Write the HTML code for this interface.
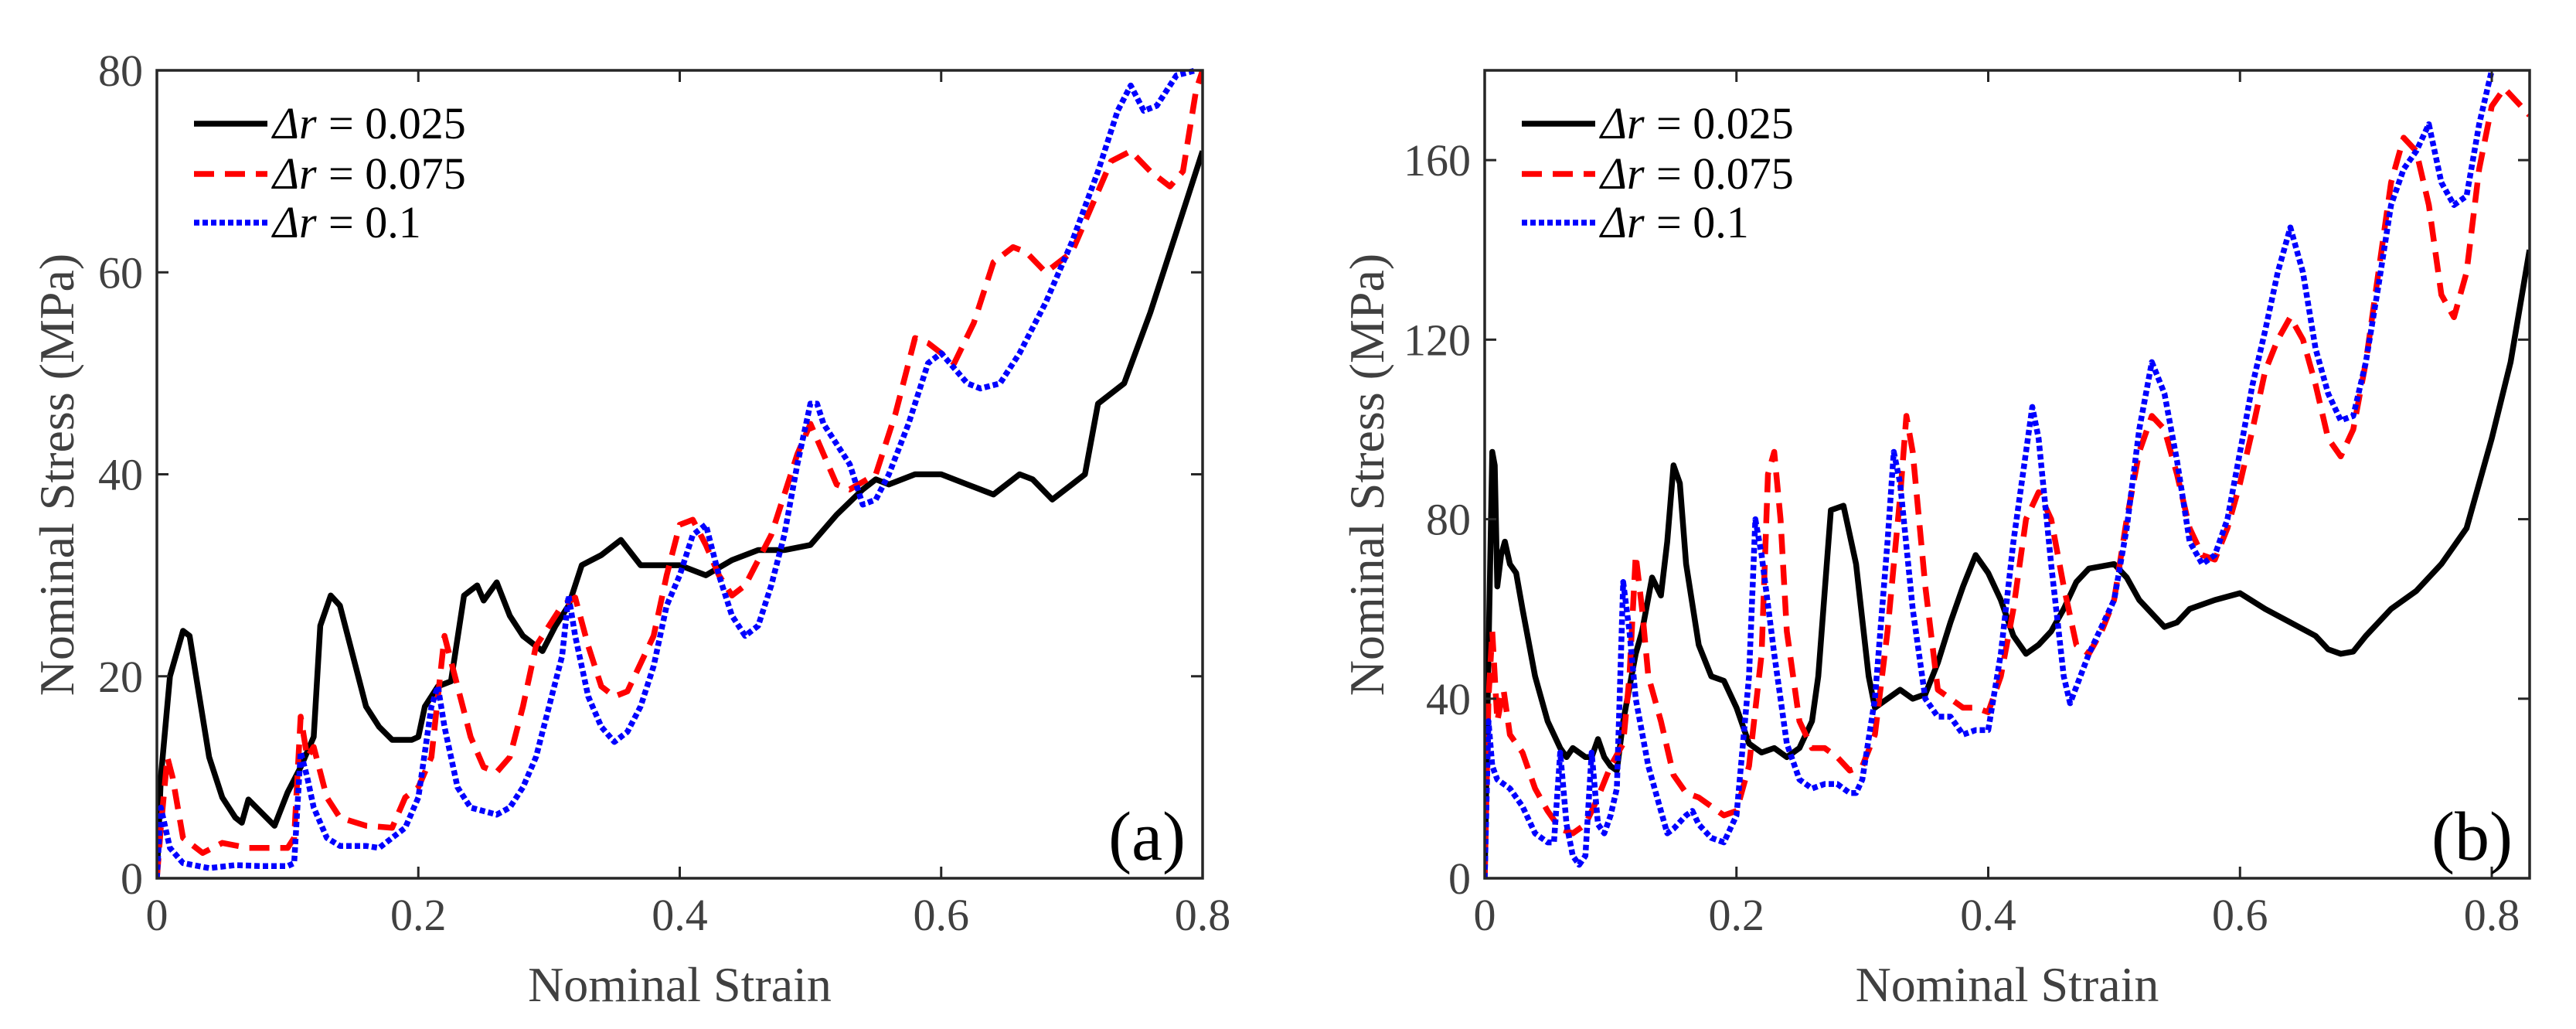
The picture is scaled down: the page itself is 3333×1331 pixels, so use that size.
<!DOCTYPE html>
<html><head><meta charset="utf-8"><style>
html,body{margin:0;padding:0;background:#fff;}
svg{display:block;}
text{font-family:"Liberation Serif",serif;}
</style></head><body>
<svg id="fig" width="3333" height="1331" viewBox="0 0 3333 1331" xmlns="http://www.w3.org/2000/svg"></svg>
<script>
const xTicksA=[0,0.2,0.4,0.6,0.8];
const yTicksA=[0,20,40,60,80];
const xTicksB=[0,0.2,0.4,0.6,0.8];
const yTicksB=[0,40,80,120,160];
const seriesValues=["0.025","0.075","0.1"];
const aBlackX=[0,0.003,0.01,0.02,0.025,0.03,0.04,0.05,0.06,0.065,0.07,0.08,0.09,0.1,0.11,0.12,0.125,0.133,0.14,0.15,0.16,0.17,0.18,0.195,0.2,0.205,0.215,0.225,0.235,0.245,0.25,0.26,0.27,0.28,0.29,0.295,0.305,0.315,0.325,0.34,0.355,0.37,0.39,0.4,0.42,0.44,0.46,0.48,0.5,0.52,0.54,0.55,0.56,0.58,0.6,0.62,0.64,0.66,0.67,0.685,0.7,0.71,0.72,0.74,0.76,0.78,0.8];
const aBlackY=[0,10,20,24.5,24,20,12,8,6,5.5,7.8,6.5,5.2,8.5,11,14,25,28,27,22,17,15,13.7,13.7,14,17,19,19.5,28,29,27.5,29.3,26,24,23,22.5,25,27,31,32,33.5,31,31,31,30,31.5,32.5,32.5,33,36,38.5,39.5,39,40,40,39,38,40,39.5,37.5,39,40,47,49,56,64,72];
const aRedX=[0,0.003,0.008,0.012,0.02,0.035,0.05,0.07,0.1,0.105,0.11,0.115,0.12,0.13,0.14,0.16,0.18,0.19,0.2,0.21,0.22,0.23,0.24,0.25,0.26,0.27,0.28,0.29,0.31,0.32,0.33,0.34,0.35,0.36,0.38,0.39,0.4,0.41,0.42,0.43,0.44,0.45,0.47,0.49,0.5,0.51,0.52,0.53,0.55,0.565,0.58,0.59,0.6,0.61,0.625,0.64,0.655,0.665,0.68,0.7,0.72,0.73,0.745,0.76,0.775,0.785,0.795,0.8];
const aRedY=[0,5,12,10,4,2.5,3.5,3,3,4,16,12,13,8,6,5.2,5,8,9,12,24,19,14,11,10.5,12,17,23,27,27.8,23,19,18,18.5,24,30,35,35.5,33,30,28,29,34,42,45,42,39,38.5,40,46,53.5,53,52,51,55,61,62.5,62,60,62,68,71,72,70,68.5,70,78,80];
const aBlueX=[0,0.003,0.01,0.02,0.04,0.06,0.08,0.1,0.105,0.11,0.115,0.12,0.13,0.14,0.16,0.17,0.19,0.2,0.21,0.215,0.22,0.23,0.24,0.26,0.27,0.28,0.29,0.3,0.31,0.315,0.32,0.33,0.34,0.35,0.36,0.37,0.38,0.39,0.4,0.41,0.42,0.43,0.44,0.45,0.46,0.47,0.48,0.49,0.5,0.505,0.51,0.53,0.54,0.55,0.56,0.575,0.59,0.6,0.62,0.63,0.645,0.66,0.68,0.7,0.72,0.735,0.745,0.755,0.765,0.78,0.795];
const aBlueY=[0,7,3,1.5,1,1.3,1.2,1.2,1.5,12.5,10,7,4,3.2,3.2,3,5,8,17,19,15,9,7,6.3,7,9,12,17,22,28,24,18,15,13.5,14.5,17,21,27,30,34,35,30,26,24,25,29,34,41,47,47,45,41,37,37.5,40,45,51,52,49,48.5,49,52,57,63,70,76,78.5,76,76.5,79.5,80];
const bBlackX=[0,0.003,0.006,0.008,0.01,0.013,0.016,0.02,0.025,0.03,0.04,0.05,0.06,0.065,0.07,0.08,0.085,0.09,0.095,0.1,0.105,0.11,0.12,0.125,0.133,0.14,0.145,0.15,0.155,0.16,0.17,0.18,0.19,0.2,0.21,0.22,0.23,0.24,0.25,0.26,0.265,0.275,0.285,0.295,0.305,0.31,0.32,0.33,0.34,0.35,0.36,0.37,0.38,0.39,0.4,0.41,0.42,0.43,0.44,0.45,0.46,0.47,0.48,0.5,0.51,0.52,0.54,0.55,0.56,0.58,0.6,0.62,0.64,0.66,0.67,0.68,0.69,0.7,0.72,0.74,0.76,0.78,0.8,0.815,0.83];
const bBlackY=[0,50,95,92,65,72,75,70,68,60,45,35,29,27,29,27,27,31,27,25,24,35,50,55,67,63,75,92,88,70,52,45,44,38,30,28,29,27,29,35,45,82,83,70,45,38,40,42,40,41,48,57,65,72,68,62,54,50,52,55,60,66,69,70,67,62,56,57,60,62,63.5,60,57,54,51,50,50.5,54,60,64,70,78,98,115,140];
const bRedX=[0,0.003,0.006,0.01,0.015,0.02,0.03,0.04,0.05,0.06,0.07,0.08,0.09,0.1,0.11,0.115,0.12,0.125,0.13,0.14,0.15,0.16,0.17,0.18,0.19,0.2,0.21,0.22,0.225,0.23,0.235,0.24,0.25,0.26,0.27,0.28,0.29,0.3,0.31,0.32,0.33,0.335,0.34,0.35,0.36,0.37,0.38,0.39,0.4,0.41,0.42,0.43,0.44,0.45,0.46,0.47,0.48,0.49,0.5,0.51,0.52,0.53,0.54,0.55,0.56,0.57,0.58,0.59,0.6,0.61,0.62,0.63,0.64,0.65,0.66,0.67,0.68,0.69,0.7,0.71,0.72,0.73,0.74,0.75,0.76,0.77,0.78,0.79,0.8,0.81,0.83];
const bRedY=[0,40,55,35,42,32,28,20,15,11,10,12,18,25,30,45,72,60,45,35,23,19,18,16,14,15,25,50,90,95,80,55,35,29,29,27,24,25,32,55,85,103,95,65,42,40,38,38,37,45,60,80,86,80,65,52,50,55,62,80,95,103,100,90,78,72,71,78,88,100,113,120,125,120,110,98,94,100,115,135,155,165,162,150,130,125,135,158,172,176,170];
const bBlueX=[0,0.003,0.006,0.01,0.02,0.03,0.04,0.05,0.055,0.06,0.065,0.07,0.075,0.08,0.085,0.09,0.095,0.1,0.105,0.11,0.115,0.12,0.13,0.14,0.145,0.15,0.16,0.165,0.17,0.18,0.19,0.2,0.21,0.215,0.22,0.23,0.24,0.25,0.26,0.27,0.28,0.29,0.295,0.3,0.31,0.32,0.325,0.33,0.34,0.35,0.36,0.37,0.38,0.39,0.4,0.41,0.42,0.43,0.435,0.44,0.45,0.46,0.465,0.48,0.49,0.5,0.51,0.52,0.53,0.54,0.55,0.56,0.57,0.58,0.59,0.6,0.61,0.62,0.63,0.64,0.65,0.66,0.67,0.68,0.69,0.7,0.71,0.72,0.73,0.74,0.75,0.76,0.77,0.78,0.79,0.8];
const bBlueY=[0,35,25,22,20,16,10,8,8,28,12,5,3,5,28,12,10,14,20,66,55,40,25,15,10,11,14,15,12,9,8,14,45,80,72,50,30,22,20,21,21,19,19,22,40,75,95,88,60,40,36,36,32,33,33,50,75,95,105,98,70,45,39,50,56,62,78,100,115,108,93,75,70,72,80,95,110,122,135,145,135,118,108,102,103,115,132,150,158,162,168,155,150,152,168,180];

const NS="http://www.w3.org/2000/svg";
const svg=document.getElementById('fig');
const FF="Liberation Serif, serif";
function mk(tag,attrs,parent){const e=document.createElementNS(NS,tag);for(const k in attrs)e.setAttribute(k,attrs[k]);(parent||svg).appendChild(e);return e;}
const styles=[{stroke:"#000",dash:""},{stroke:"#ff0000",dash:"26 14"},{stroke:"#0000ff",dash:"7 4"}];

function panel(cfg){
  const g=mk('g',{});
  
  
  const L=cfg.left,R=cfg.right,T=91,B=1136;
  const xs=v=>L+(v-0)/(cfg.xmax)*(R-L);
  const ys=v=>B-(v/cfg.ymax)*(B-T);
  const clip=mk('clipPath',{id:'clip-'+cfg.name},g);
  mk('rect',{x:L,y:T-4,width:R-L,height:B-T+4},clip);
  cfg.series.forEach((s,i)=>{
    const d=s.x.map((v,j)=>(j?'L':'M')+xs(v).toFixed(1)+' '+ys(s.y[j]).toFixed(1)).join(' ');
    const p=mk('path',{d:d,fill:'none',stroke:styles[i].stroke,'stroke-width':7.5,'stroke-linejoin':'round','clip-path':'url(#clip-'+cfg.name+')'},g);
    if(styles[i].dash)p.setAttribute('stroke-dasharray',styles[i].dash);
    
    
  });
  const box=mk('rect',{x:L,y:T,width:R-L,height:B-T,fill:'none',stroke:'#262626','stroke-width':3.5},g);
  
  
  cfg.xt.forEach(v=>{
    const x=xs(v);
    mk('line',{x1:x,y1:B,x2:x,y2:B-15,stroke:'#262626','stroke-width':3},g);
    mk('line',{x1:x,y1:T,x2:x,y2:T+15,stroke:'#262626','stroke-width':3},g);
    const t=mk('text',{x:x,y:1203,'text-anchor':'middle','font-size':58,fill:'#404040','font-family':FF},g);
    t.textContent=String(v);
    
    
  });
  cfg.yt.forEach(v=>{
    const y=ys(v);
    mk('line',{x1:L,y1:y,x2:L+15,y2:y,stroke:'#262626','stroke-width':3},g);
    mk('line',{x1:R,y1:y,x2:R-15,y2:y,stroke:'#262626','stroke-width':3},g);
    const t=mk('text',{x:L-18,y:y+20,'text-anchor':'end','font-size':58,fill:'#404040','font-family':FF},g);
    t.textContent=String(v);
    
    
  });
  const xl=mk('text',{x:(L+R)/2,y:1295,'text-anchor':'middle','font-size':64,fill:'#404040','font-family':FF},g);
  xl.textContent='Nominal Strain';
  
  
  const yl=mk('text',{x:0,y:0,'text-anchor':'middle','font-size':64,fill:'#404040','font-family':FF,transform:'translate('+cfg.ylx+',614) rotate(-90)'},g);
  yl.textContent='Nominal Stress (MPa)';
  
  
  const pl=mk('text',{x:R-22,y:1112,'text-anchor':'end','font-size':90,fill:'#000','font-family':FF},g);
  pl.textContent=cfg.label;
  
  
  const lg=mk('g',{},g);
  
  
  [160,225,288].forEach((y,i)=>{
    const e=mk('g',{},lg);
    
    
    const ln=mk('line',{x1:L+48,y1:y,x2:L+143,y2:y,stroke:styles[i].stroke,'stroke-width':7.5},e);
    if(styles[i].dash)ln.setAttribute('stroke-dasharray',styles[i].dash);
    const a=mk('text',{x:L+150,y:y+19,'font-size':58,fill:'#000','font-family':FF,'font-style':'italic'},e);
    a.textContent='Δr';
    const b=mk('text',{x:L+222,y:y+19,'font-size':58,fill:'#000','font-family':FF},e);
    b.textContent='= '+seriesValues[i];
  });
}
panel({name:'panel-a',left:203,right:1556,xmax:0.8,ymax:80,xt:xTicksA,yt:yTicksA,ylx:95,label:'(a)',
  series:[{x:aBlackX,y:aBlackY},{x:aRedX,y:aRedY},{x:aBlueX,y:aBlueY}]});
panel({name:'panel-b',left:1921,right:3273,xmax:(3273-1921)/((3224-1921)/0.8),ymax:180,xt:xTicksB,yt:yTicksB,ylx:1790,label:'(b)',
  series:[{x:bBlackX,y:bBlackY},{x:bRedX,y:bRedY},{x:bBlueX,y:bBlueY}]});
</script>
</body></html>
